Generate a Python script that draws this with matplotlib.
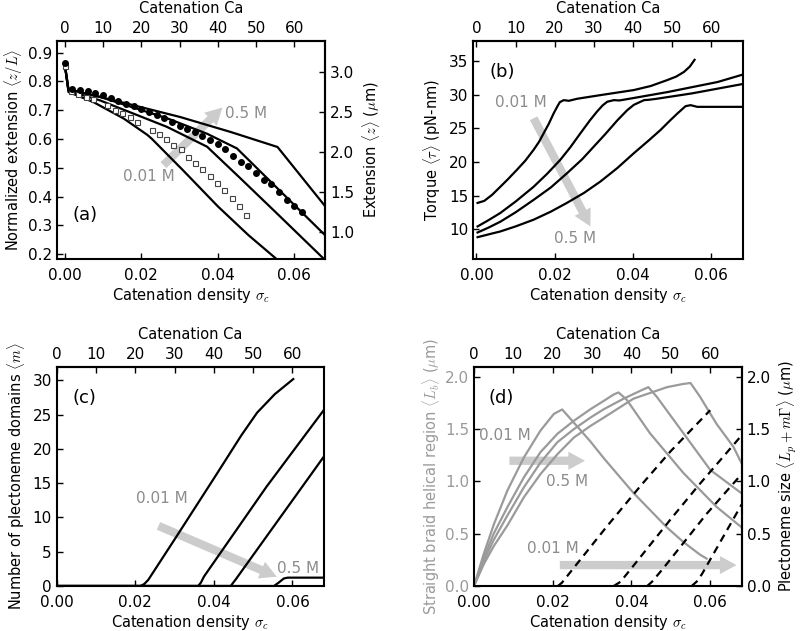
import matplotlib
matplotlib.use("Agg")
import matplotlib.pyplot as plt
from matplotlib.ticker import FormatStrFormatter

plt.rcParams['font.family'] = 'DejaVu Sans'
plt.rcParams['mathtext.fontset'] = 'cm'
plt.rcParams['font.size'] = 10.5

TXT_GRAY = '#8c8c8c'
ARROW_GRAY = '#cccccc'
LINE_GRAY = '#9a9a9a'

# ---- (a) extension vs catenation density ----
sig_a1 = [0, 0.001, 0.0075, 0.0154, 0.0216, 0.0228, 0.031, 0.040, 0.048, 0.0556, 0.058]
ext_a1 = [0.862, 0.763, 0.728, 0.671, 0.614, 0.600, 0.490, 0.366, 0.266, 0.180, 0.15]
sig_a2 = [0, 0.001, 0.0092, 0.0267, 0.0302, 0.0372, 0.046, 0.055, 0.0679, 0.070]
ext_a2 = [0.862, 0.767, 0.734, 0.642, 0.619, 0.573, 0.462, 0.347, 0.181, 0.15]
sig_a3 = [0, 0.001, 0.0092, 0.0267, 0.0372, 0.045, 0.055, 0.068, 0.070]
ext_a3 = [0.862, 0.770, 0.746, 0.672, 0.618, 0.567, 0.436, 0.266, 0.24]
sig_a4 = [0, 0.001, 0.015, 0.0302, 0.0434, 0.0556, 0.068, 0.070]
ext_a4 = [0.862, 0.773, 0.727, 0.676, 0.624, 0.572, 0.367, 0.335]

# experimental points
sig_dots = [0, 0.002, 0.004, 0.006, 0.008, 0.010, 0.012, 0.014, 0.016, 0.018,
            0.020, 0.022, 0.024, 0.026, 0.028, 0.030, 0.032, 0.034, 0.036, 0.038,
            0.040, 0.042, 0.044, 0.046, 0.048, 0.050, 0.052, 0.054, 0.056, 0.058,
            0.060, 0.062]
ext_dots = [0.862, 0.775, 0.771, 0.765, 0.758, 0.752, 0.742, 0.733, 0.723, 0.713,
            0.703, 0.693, 0.683, 0.672, 0.660, 0.646, 0.633, 0.624, 0.609, 0.595,
            0.584, 0.564, 0.541, 0.521, 0.505, 0.480, 0.457, 0.443, 0.417, 0.389,
            0.366, 0.347]
sig_sq = [0, 0.0017, 0.0036, 0.0055, 0.0074, 0.0110, 0.0131, 0.0151, 0.0170, 0.0189,
          0.0227, 0.0246, 0.0265, 0.0284, 0.0303, 0.0322, 0.0340, 0.0360, 0.0379,
          0.0399, 0.0417, 0.0436, 0.0455, 0.0474]
ext_sq = [0.852, 0.768, 0.757, 0.747, 0.737, 0.717, 0.702, 0.690, 0.676, 0.659,
          0.630, 0.616, 0.599, 0.578, 0.565, 0.536, 0.517, 0.495, 0.473,
          0.448, 0.422, 0.395, 0.367, 0.336]

# ---- (b) torque ----
sig_b1 = [0.0003, 0.002, 0.004, 0.0061, 0.008, 0.0103, 0.0125, 0.0146, 0.016, 0.0172,
          0.0185, 0.0197, 0.0207, 0.0213, 0.0223, 0.0236, 0.0257, 0.0317, 0.0402,
          0.0445, 0.0488, 0.051, 0.053, 0.0545, 0.0557]
tau_b1 = [13.9, 14.2, 15.1, 16.3, 17.4, 18.8, 20.2, 21.8, 23.0, 24.3,
          25.7, 27.2, 28.3, 28.9, 29.2, 29.1, 29.4, 29.95, 30.7,
          31.3, 32.2, 32.7, 33.4, 34.2, 35.2]
sig_b2 = [0.0003, 0.003, 0.0061, 0.010, 0.0146, 0.018, 0.0214, 0.024, 0.0266, 0.029,
          0.0308, 0.0322, 0.0334, 0.0351, 0.0365, 0.040, 0.0488, 0.0616, 0.068]
tau_b2 = [10.4, 11.3, 12.4, 14.1, 16.3, 18.2, 20.3, 22.2, 24.3, 26.2,
          27.5, 28.4, 28.96, 29.2, 29.15, 29.5, 30.4, 31.9, 33.0]
sig_b3 = [0.0003, 0.003, 0.0061, 0.010, 0.0146, 0.019, 0.0231, 0.027, 0.030, 0.033,
          0.036, 0.0385, 0.0402, 0.0428, 0.0440, 0.046, 0.055, 0.068]
tau_b3 = [9.5, 10.2, 11.1, 12.5, 14.35, 16.2, 18.3, 20.4, 22.3, 24.2,
          26.2, 27.7, 28.5, 29.2, 29.25, 29.4, 30.2, 31.6]
sig_b4 = [0.0003, 0.003, 0.0061, 0.010, 0.0146, 0.019, 0.0231, 0.0275, 0.0317, 0.036,
          0.0402, 0.044, 0.047, 0.0495, 0.0513, 0.0534, 0.0547, 0.0564, 0.060, 0.068]
tau_b4 = [8.8, 9.2, 9.65, 10.4, 11.4, 12.6, 13.9, 15.4, 17.1, 19.1,
          21.3, 23.2, 24.75, 26.2, 27.2, 28.3, 28.45, 28.2, 28.2, 28.2]

# ---- (c) number of plectonemes ----
sig_c1 = [0, 0.0213, 0.0223, 0.0233, 0.030, 0.040, 0.047, 0.051, 0.0555, 0.0602]
m_c1 = [0, 0, 0.3, 0.9, 6.8, 15.7, 22.0, 25.3, 28.0, 30.2]
sig_c2 = [0, 0.036, 0.0367, 0.0375, 0.0534, 0.068]
m_c2 = [0, 0, 0.5, 1.4, 14.5, 25.7]
sig_c3 = [0, 0.0443, 0.0448, 0.0456, 0.068]
m_c3 = [0, 0, 0.4, 1.0, 18.9]
sig_c4 = [0, 0.0553, 0.0565, 0.0578, 0.0588, 0.068]
m_c4 = [0, 0, 0.5, 1.1, 1.22, 1.22]

# ---- (d) braid / plectoneme lengths ----
sig_d1 = [0, 0.0025, 0.0051, 0.0085, 0.0127, 0.0169, 0.0203, 0.0224, 0.0254,
          0.0296, 0.033, 0.0405, 0.049, 0.0532, 0.0574, 0.0591]
lb_d1 = [0, 0.31, 0.595, 0.914, 1.23, 1.486, 1.645, 1.687, 1.56,
         1.38, 1.22, 0.89, 0.56, 0.42, 0.30, 0.262]
sig_d2 = [0, 0.0025, 0.005, 0.0085, 0.0127, 0.0169, 0.0212, 0.0254, 0.0296,
          0.033, 0.0355, 0.0367, 0.0388, 0.0447, 0.0532, 0.0616, 0.068]
lb_d2 = [0, 0.27, 0.50, 0.755, 1.04, 1.28, 1.455, 1.58, 1.69,
         1.77, 1.83, 1.85, 1.78, 1.46, 1.08, 0.757, 0.56]
sig_d3 = [0, 0.0025, 0.005, 0.0085, 0.0127, 0.0169, 0.0212, 0.0254, 0.0296,
          0.033, 0.038, 0.0425, 0.0443, 0.0464, 0.0532, 0.060, 0.068]
lb_d3 = [0, 0.24, 0.44, 0.675, 0.945, 1.18, 1.375, 1.50, 1.61,
         1.69, 1.79, 1.87, 1.90, 1.81, 1.46, 1.11, 0.885]
sig_d4 = [0, 0.0025, 0.005, 0.0085, 0.0127, 0.0169, 0.0212, 0.0254, 0.0296,
          0.033, 0.0405, 0.049, 0.053, 0.055, 0.0574, 0.0616, 0.0659, 0.068]
lb_d4 = [0, 0.21, 0.38, 0.58, 0.85, 1.07, 1.26, 1.42, 1.53,
         1.61, 1.79, 1.90, 1.93, 1.94, 1.81, 1.55, 1.33, 1.17]

sig_p1 = [0.0213, 0.0223, 0.0337, 0.0426, 0.050, 0.060]
lp_p1 = [0, 0.03, 0.567, 0.97, 1.29, 1.68]
sig_p2 = [0.0355, 0.0372, 0.040, 0.050, 0.057, 0.068]
lp_p2 = [0, 0.04, 0.17, 0.64, 0.96, 1.44]
sig_p3 = [0.0440, 0.0452, 0.0481, 0.0591, 0.068]
lp_p3 = [0, 0.04, 0.17, 0.69, 1.07]
sig_p4 = [0.0553, 0.0568, 0.0580, 0.068]
lp_p4 = [0, 0.05, 0.12, 0.78]

L_um = 3.6  # contour length used for right axis of (a)


def style(ax, xlim, ylim, yticks, yfmt):
    ax.set_xlim(*xlim)
    ax.set_ylim(*ylim)
    ax.set_xticks([0, 0.02, 0.04, 0.06])
    ax.xaxis.set_major_formatter(FormatStrFormatter('%.2f'))
    ax.set_yticks(yticks)
    ax.yaxis.set_major_formatter(FormatStrFormatter(yfmt))
    ax.tick_params(direction='in', length=4, width=1, labelsize=11)
    ax.tick_params(axis='x', pad=6.5)
    for s in ax.spines.values():
        s.set_linewidth(1.5)
    ax.set_xlabel(r'Catenation density $\sigma_c$', labelpad=2)
    top = ax.secondary_xaxis('top', functions=(lambda x: x * 1000, lambda x: x / 1000))
    top.set_xticks([0, 10, 20, 30, 40, 50, 60])
    top.tick_params(direction='in', length=4, width=1, labelsize=11)
    top.spines['top'].set_linewidth(1.5)
    top.set_xlabel('Catenation Ca', labelpad=6)
    return top


def arrow(ax, tail, tip):
    ax.annotate('', xy=tip, xytext=tail, zorder=1,
                arrowprops=dict(arrowstyle='simple,head_length=1.2,head_width=1.3,tail_width=0.6',
                                fc=ARROW_GRAY, ec='none', mutation_scale=10,
                                shrinkA=0, shrinkB=0))


fig = plt.figure(figsize=(8, 6.31), dpi=100)

# (a)
ax = fig.add_axes([0.07125, 0.5895, 0.335, 0.3455])
for s, e in [(sig_a1, ext_a1), (sig_a2, ext_a2), (sig_a3, ext_a3), (sig_a4, ext_a4)]:
    ax.plot(s, e, color='black', lw=1.6, zorder=2)
ax.plot(sig_sq, ext_sq, 's', ms=3.6, mfc='white', mec='#444444', mew=0.8, zorder=3)
ax.plot(sig_dots, ext_dots, 'o', ms=4, color='black', zorder=4)
style(ax, (-0.002, 0.068), (0.183, 0.94), [0.2, 0.3, 0.4, 0.5, 0.6, 0.7, 0.8, 0.9], '%.1f')
ax.set_ylabel(r'Normalized extension $\langle z/L \rangle$', labelpad=2)
right = ax.secondary_yaxis('right', functions=(lambda v: v * L_um, lambda z: z / L_um))
right.set_yticks([1.0, 1.5, 2.0, 2.5, 3.0])
right.yaxis.set_major_formatter(FormatStrFormatter('%.1f'))
right.tick_params(direction='in', length=4, width=1, labelsize=11)
right.spines['right'].set_linewidth(1.5)
right.set_ylabel(r'Extension $\langle z \rangle$ ($\mu$m)', labelpad=4)
arrow(ax, (0.0258, 0.509), (0.0412, 0.709))
ax.text(0.042, 0.688, '0.5 M', color=TXT_GRAY, fontsize=11, va='center')
ax.text(0.0152, 0.468, '0.01 M', color=TXT_GRAY, fontsize=11, va='center')
ax.text(0.002, 0.335, '(a)', fontsize=13, va='center')

# (b)
ax = fig.add_axes([0.5916, 0.589, 0.3368, 0.346])
for s, t in [(sig_b1, tau_b1), (sig_b2, tau_b2), (sig_b3, tau_b3), (sig_b4, tau_b4)]:
    ax.plot(s, t, color='black', lw=1.6, zorder=2)
style(ax, (-0.0008, 0.068), (5.5, 38), [10, 15, 20, 25, 30, 35], '%d')
ax.set_ylabel(r'Torque $\langle \tau \rangle$ (pN-nm)', labelpad=4)
arrow(ax, (0.0146, 26.5), (0.0291, 10.4))
ax.text(0.0048, 28.8, '0.01 M', color=TXT_GRAY, fontsize=11, va='center')
ax.text(0.0199, 8.67, '0.5 M', color=TXT_GRAY, fontsize=11, va='center')
ax.text(0.0033, 33.4, '(b)', fontsize=13, va='center')

# (c)
ax = fig.add_axes([0.0709, 0.0713, 0.334, 0.3475])
for s, m in [(sig_c1, m_c1), (sig_c2, m_c2), (sig_c3, m_c3), (sig_c4, m_c4)]:
    ax.plot(s, m, color='black', lw=1.6, zorder=2)
style(ax, (0, 0.068), (0, 32), [0, 5, 10, 15, 20, 25, 30], '%d')
ax.set_ylabel(r'Number of plectoneme domains $\langle m \rangle$', labelpad=4)
arrow(ax, (0.0259, 8.77), (0.056, 1.36))
ax.text(0.0202, 12.8, '0.01 M', color=TXT_GRAY, fontsize=11, va='center')
ax.text(0.0561, 2.6, '0.5 M', color=TXT_GRAY, fontsize=11, va='center')
ax.text(0.0041, 27.4, '(c)', fontsize=13, va='center')

# (d)
ax = fig.add_axes([0.5925, 0.0713, 0.3346, 0.3466])
for s, v in [(sig_d1, lb_d1), (sig_d2, lb_d2), (sig_d3, lb_d3), (sig_d4, lb_d4)]:
    ax.plot(s, v, color=LINE_GRAY, lw=1.6, zorder=2)
for s, v in [(sig_p1, lp_p1), (sig_p2, lp_p2), (sig_p3, lp_p3), (sig_p4, lp_p4)]:
    ax.plot(s, v, color='black', lw=1.6, dashes=(3.5, 2.5), zorder=3)
style(ax, (0, 0.068), (0, 2.09), [0.0, 0.5, 1.0, 1.5, 2.0], '%.1f')
ax.tick_params(axis='y', labelcolor=LINE_GRAY)
ax.set_ylabel(r'Straight braid helical region $\langle L_b \rangle$ ($\mu$m)',
              color=LINE_GRAY, labelpad=2)
right = ax.secondary_yaxis('right')
right.set_yticks([0.0, 0.5, 1.0, 1.5, 2.0])
right.yaxis.set_major_formatter(FormatStrFormatter('%.1f'))
right.tick_params(direction='in', length=4, width=1, labelsize=11)
right.spines['right'].set_linewidth(1.5)
right.set_ylabel(r'Plectoneme size $\langle L_p + m\Gamma \rangle$ ($\mu$m)', labelpad=4)
arrow(ax, (0.009, 1.197), (0.0282, 1.197))
arrow(ax, (0.0218, 0.2), (0.0667, 0.2))
ax.text(0.0013, 1.44, '0.01 M', color=TXT_GRAY, fontsize=11, va='center')
ax.text(0.0182, 1.0, '0.5 M', color=TXT_GRAY, fontsize=11, va='center')
ax.text(0.0134, 0.356, '0.01 M', color=TXT_GRAY, fontsize=11, va='center')
ax.text(0.0038, 1.795, '(d)', fontsize=13, va='center')

plt.savefig('out.png', dpi=100)
